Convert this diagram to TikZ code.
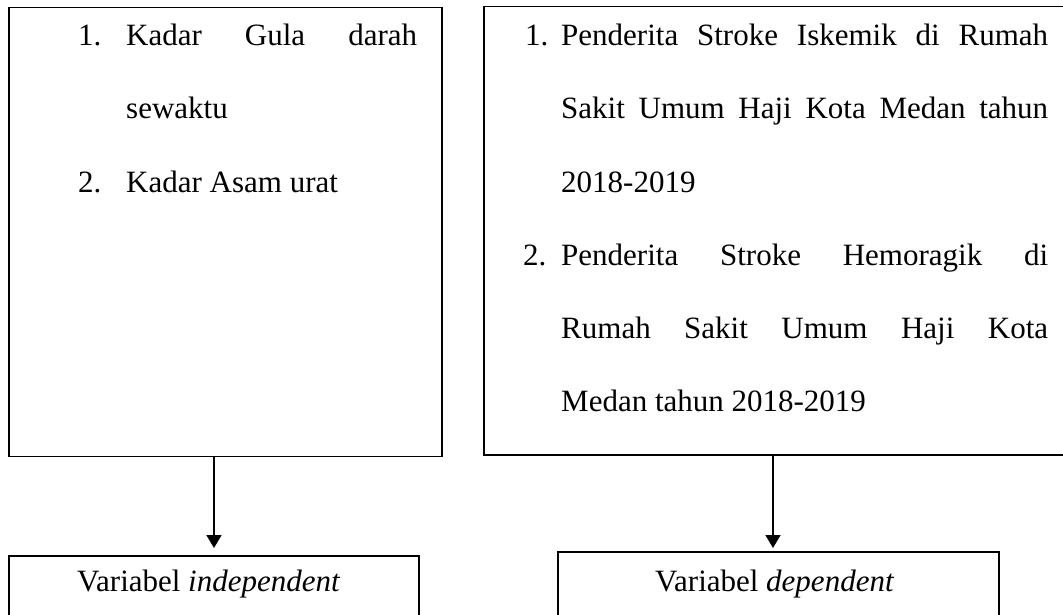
\documentclass[tikz,border=0pt]{standalone}
\usepackage{fontspec}
\setmainfont{Liberation Serif}
\usetikzlibrary{arrows.meta}
\begin{document}
\begin{tikzpicture}[x=1pt,y=-1pt,
  box/.style={draw, line width=1.6pt, inner sep=0pt, anchor=north west},
  txt/.style={anchor=base west, inner sep=0pt, font=\fontsize{31}{31}\selectfont},
  arr/.style={line width=1.6pt, -{Triangle[length=13pt,width=15pt]}}]
\clip (0,0) rectangle (1063,614);
% boxes
\node[box, minimum width=433pt, minimum height=449pt] (boxA) at (8,6.5) {};
\node[box, minimum width=584pt, minimum height=448.5pt] (boxB) at (483,5.5) {};
\node[box, minimum width=410pt, minimum height=95pt] (boxC) at (8,555) {};
\node[box, minimum width=441pt, minimum height=99pt] (boxD) at (557,551) {};
% left box text
\node[txt] (a1n) at (78,45) {1.};
\node[txt] (a1) at (126,45) {\makebox[291pt][s]{Kadar Gula darah}};
\node[txt] (a2) at (126,118) {sewaktu};
\node[txt] (a3n) at (78,192) {2.};
\node[txt] (a3) at (126,192) {Kadar Asam urat};
% right box text
\node[txt] (b1n) at (525,45) {1.};
\node[txt] (b1) at (561,45) {\makebox[487pt][s]{Penderita Stroke Iskemik di Rumah}};
\node[txt] (b2) at (561,118) {\makebox[487pt][s]{Sakit Umum Haji Kota Medan tahun}};
\node[txt] (b3) at (561,192) {2018-2019};
\node[txt] (b4n) at (523,265) {2.};
\node[txt] (b4) at (561,265) {\makebox[487pt][s]{Penderita Stroke Hemoragik di}};
\node[txt] (b5) at (561,338) {\makebox[487pt][s]{Rumah Sakit Umum Haji Kota}};
\node[txt] (b6) at (561,411) {Medan tahun 2018-2019};
% bottom texts
\node[txt] (c1) at (77,591) {Variabel \textit{independent}};
\node[txt] (d1) at (655,591) {Variabel \textit{dependent}};
% arrows
\coordinate (xa) at (214,0);
\coordinate (xb) at (773,0);
\coordinate (tipA) at (214,548);
\coordinate (tipB) at (773,548);
\draw[arr] (boxA.south -| xa) -- (tipA);
\draw[arr] (boxB.south -| xb) -- (tipB);
\end{tikzpicture}
\end{document}
